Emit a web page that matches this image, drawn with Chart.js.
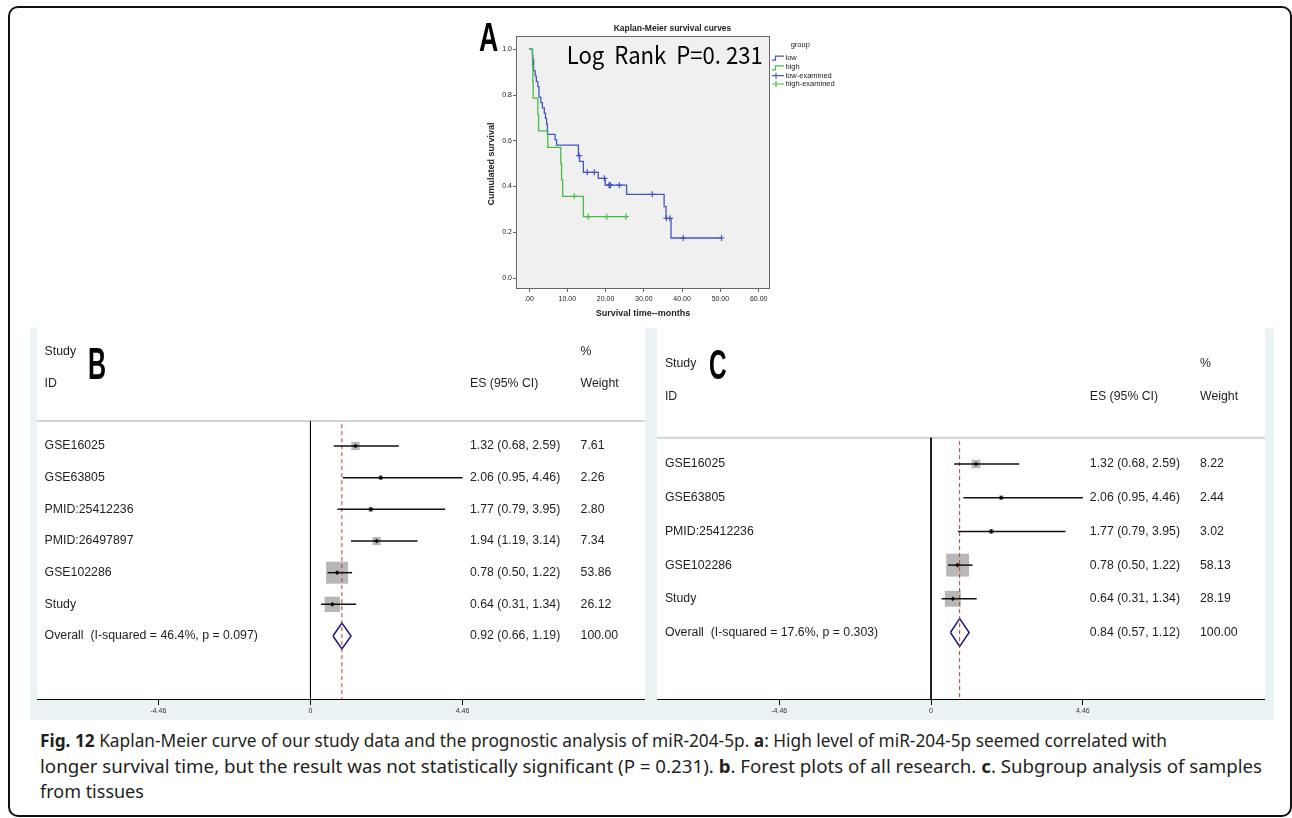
<!DOCTYPE html>
<html>
<head>
<meta charset="utf-8">
<script src="https://cdn.jsdelivr.net/npm/chart.js@4.4.0/dist/chart.umd.min.js"></script>
<style>
  body { margin: 0; width: 1292px; height: 818px; overflow: hidden; position: relative; background: #fff; font-family: "Liberation Sans", Arial, sans-serif; }
  .frame { position: absolute; left: 8px; top: 6px; width: 1284px; height: 811px; border: 2px solid #111; border-radius: 10px; box-sizing: border-box; }
  .panel { position: absolute; background: #eaf2f3; }
  canvas { position: absolute; }
  .big { position: absolute; line-height: 1; color: #000; font-weight: bold; transform-origin: left top; white-space: nowrap; }
  .cap { position: absolute; left: 40px; font-family: "Noto Sans", sans-serif; font-size: 17.5px; line-height: 22px; color: #231f20; white-space: nowrap; transform-origin: left center; }
</style>
</head>
<body>
<div class="frame"></div>
<div class="panel" style="left:30px;top:328px;width:620px;height:392px"></div>
<div class="panel" style="left:650px;top:328px;width:624px;height:392px"></div>

<canvas id="km" width="380" height="315" style="left:470px;top:10px"></canvas>
<canvas id="forestB" width="608" height="392" style="left:37px;top:328px"></canvas>
<canvas id="forestC" width="608" height="392" style="left:657px;top:328px"></canvas>

<div class="big" style="left:479px;top:17px;font-size:40.5px;transform:scaleX(0.66)">A</div>
<div class="big" style="left:88px;top:342px;font-size:44.7px;transform:scaleX(0.56)">B</div>
<div class="big" style="left:709px;top:344px;font-size:42px;transform:scaleX(0.58)">C</div>

<div class="cap" id="cap1" style="top:729px"><b>Fig. 12</b> Kaplan-Meier curve of our study data and the prognostic analysis of miR-204-5p. <b>a</b>: High level of miR-204-5p seemed correlated with</div>
<div class="cap" id="cap2" style="top:755px">longer survival time, but the result was not statistically significant (P = 0.231). <b>b</b>. Forest plots of all research. <b>c</b>. Subgroup analysis of samples</div>
<div class="cap" id="cap3" style="top:780px">from tissues</div>

<script>
// Kaplan-Meier: tiempos de evento y supervivencia
const lowTimes = [0, 0.9, 1.0, 1.2, 1.6, 1.9, 2.3, 2.6, 3.1, 3.5, 4.0, 4.3, 4.6, 4.8, 6.8, 7.2, 12.9, 13.2, 14.2, 18.1, 19.9, 25.5, 35.3, 35.8, 37.1];
const lowSurv = [1, 0.977, 0.953, 0.907, 0.884, 0.860, 0.837, 0.791, 0.767, 0.744, 0.721, 0.698, 0.674, 0.628, 0.605, 0.581, 0.535, 0.510, 0.462, 0.436, 0.406, 0.366, 0.312, 0.261, 0.175];
const lowCensor = [13.1, 15.2, 17.05, 19.7, 20.9, 21.1, 21.3, 23.6, 32.2, 35.9, 36.8, 40.3, 50.3];
const highTimes = [0, 0.9, 1.0, 1.1, 2.3, 2.5, 4.9, 8.3, 8.5, 8.8, 14.2];
const highSurv = [1, 0.929, 0.857, 0.786, 0.714, 0.643, 0.571, 0.500, 0.429, 0.357, 0.268];
const highCensor = [11.8, 15.5, 20.3, 25.3];
const kmXTicks = [0, 10, 20, 30, 40, 50, 60];
const kmYTicks = [0, 0.2, 0.4, 0.6, 0.8, 1.0];
const kmGroups = ['low', 'high', 'low-examined', 'high-examined'];

// Forest plot B (todos los estudios)
const studiesB = ['GSE16025', 'GSE63805', 'PMID:25412236', 'PMID:26497897', 'GSE102286', 'Study'];
const esB = [1.32, 2.06, 1.77, 1.94, 0.78, 0.64];
const loB = [0.68, 0.95, 0.79, 1.19, 0.50, 0.31];
const hiB = [2.59, 4.46, 3.95, 3.14, 1.22, 1.34];
const weightB = [7.61, 2.26, 2.80, 7.34, 53.86, 26.12];
const overallB = [0.92, 0.66, 1.19];
const overallLabelB = 'Overall  (I-squared = 46.4%, p = 0.097)';

// Forest plot C (subgrupo de tejidos)
const studiesC = ['GSE16025', 'GSE63805', 'PMID:25412236', 'GSE102286', 'Study'];
const esC = [1.32, 2.06, 1.77, 0.78, 0.64];
const loC = [0.68, 0.95, 0.79, 0.50, 0.31];
const hiC = [2.59, 4.46, 3.95, 1.22, 1.34];
const weightC = [8.22, 2.44, 3.02, 58.13, 28.19];
const overallC = [0.84, 0.57, 1.12];
const overallLabelC = 'Overall  (I-squared = 17.6%, p = 0.303)';

const forestTicks = [-4.46, 0, 4.46];

const BLUE = '#4257c2';
const GREEN = '#46be46';

// curva escalonada hasta el ultimo censurado
function stepCurve(times, surv, censor) {
  const pts = times.map((t, i) => ({ x: t, y: surv[i] }));
  const end = Math.max(...censor);
  if (end > times[times.length - 1]) pts.push({ x: end, y: surv[surv.length - 1] });
  return pts;
}
function survAt(times, surv, t) {
  let s = surv[0];
  times.forEach((tt, i) => { if (tt <= t) s = surv[i]; });
  return s;
}
function censorPoints(times, surv, censor) {
  return censor.map(t => ({ x: t, y: survAt(times, surv, t) }));
}

const kmDecor = {
  id: 'kmDecor',
  beforeDatasetsDraw(chart) {
    const { ctx, chartArea: a } = chart;
    ctx.save();
    ctx.fillStyle = '#f0f0f0';
    ctx.fillRect(a.left, a.top, a.right - a.left, a.bottom - a.top);
    ctx.restore();
  },
  afterDraw(chart) {
    const { ctx, chartArea: a } = chart;
    ctx.save();
    ctx.strokeStyle = '#666';
    ctx.lineWidth = 1;
    ctx.strokeRect(a.left + 0.5, a.top + 0.5, a.right - a.left - 1, a.bottom - a.top - 1);

    ctx.fillStyle = '#222';
    ctx.textAlign = 'center';
    ctx.textBaseline = 'middle';
    ctx.font = 'bold 8.5px "Liberation Sans", Arial';
    ctx.fillText('Kaplan-Meier survival curves', 202.5, 19);
    ctx.font = 'bold 9px "Liberation Sans", Arial';
    ctx.fillText('Survival time--months', (a.left + a.right) / 2, 304);
    ctx.save();
    ctx.translate(21.7, 154);
    ctx.rotate(-Math.PI / 2);
    ctx.fillText('Cumulated survival', 0, 0);
    ctx.restore();

    // texto del log rank
    ctx.font = '24px "Noto Sans CJK SC"';
    ctx.textAlign = 'left';
    ctx.textBaseline = 'alphabetic';
    ctx.fillStyle = '#000';
    const lr = 'Log  Rank  P=0. 231';
    const sx = 196 / ctx.measureText(lr).width;
    ctx.save();
    ctx.translate(96.7, 54);
    ctx.scale(sx, 1);
    ctx.fillText(lr, 0, 0);
    ctx.restore();

    // leyenda
    ctx.font = '7.5px "Liberation Sans", Arial';
    ctx.fillStyle = '#222';
    ctx.textBaseline = 'middle';
    ctx.fillText('group', 320.7, 35);
    const ys = [47.7, 57.3, 65.7, 74];
    const cols = [BLUE, GREEN, BLUE, GREEN];
    kmGroups.forEach((g, i) => {
      const y = ys[i];
      ctx.strokeStyle = cols[i];
      ctx.lineWidth = 1.2;
      ctx.beginPath();
      if (i < 2) {
        ctx.moveTo(302, y + 2.5); ctx.lineTo(305.5, y + 2.5); ctx.lineTo(305.5, y - 1.5); ctx.lineTo(314, y - 1.5);
      } else {
        ctx.moveTo(302, y); ctx.lineTo(314, y);
        ctx.moveTo(306, y - 3); ctx.lineTo(306, y + 3);
      }
      ctx.stroke();
      ctx.fillStyle = '#222';
      ctx.fillText(g, 315.5, y);
    });
    ctx.restore();
  }
};

new Chart(document.getElementById('km'), {
  type: 'scatter',
  data: {
    datasets: [
      { type: 'line', data: stepCurve(highTimes, highSurv, highCensor), stepped: true, borderColor: GREEN, borderWidth: 1.3, pointRadius: 0, fill: false },
      { data: censorPoints(highTimes, highSurv, highCensor), pointStyle: 'cross', pointRadius: 3, borderColor: GREEN, borderWidth: 1.2 },
      { type: 'line', data: stepCurve(lowTimes, lowSurv, lowCensor), stepped: true, borderColor: BLUE, borderWidth: 1.3, pointRadius: 0, fill: false },
      { data: censorPoints(lowTimes, lowSurv, lowCensor), pointStyle: 'cross', pointRadius: 3, borderColor: BLUE, borderWidth: 1.2 }
    ]
  },
  options: {
    responsive: false,
    animation: false,
    layout: { autoPadding: false, padding: { top: 26, right: 80, left: 0, bottom: 0 } },
    plugins: { legend: { display: false }, tooltip: { enabled: false } },
    scales: {
      x: {
        type: 'linear', min: -3.4, max: 62.96,
        afterFit: s => { s.height = 36; },
        afterBuildTicks: s => { s.ticks = kmXTicks.map(v => ({ value: v })); },
        grid: { drawOnChartArea: false, tickLength: 3, color: '#666' },
        border: { display: false },
        ticks: { autoSkip: false, maxRotation: 0, padding: 3, color: '#222', font: { size: 7, family: '"Liberation Sans", Arial' }, callback: v => v === 0 ? '.00' : v.toFixed(2) }
      },
      y: {
        type: 'linear', min: -0.048, max: 1.058,
        afterFit: s => { s.width = 46; },
        afterBuildTicks: s => { s.ticks = kmYTicks.map(v => ({ value: v })); },
        grid: { drawOnChartArea: false, tickLength: 3, color: '#666' },
        border: { display: false },
        ticks: { autoSkip: false, padding: 1, color: '#222', font: { size: 7, family: '"Liberation Sans", Arial' }, callback: v => v.toFixed(1) }
      }
    }
  },
  plugins: [kmDecor]
});

// Se arma un forest plot con las filas en unidades de renglon
function forestChart(id, d, lay) {
  const n = d.studies.length;
  const font = '12.3px "Liberation Sans", Arial';
  const datasets = [];
  datasets.push({ data: d.es.map((v, i) => ({ x: v, y: i })), pointStyle: 'rectRot', pointRadius: 2.3, backgroundColor: '#000', borderWidth: 0 });
  d.studies.forEach((s, i) => {
    datasets.push({ type: 'line', data: [{ x: d.lo[i], y: i }, { x: d.hi[i], y: i }], borderColor: '#111', borderWidth: 1.5, pointRadius: 0 });
  });
  datasets.push({ type: 'line', data: [{ x: d.overall[0], y: lay.sepRow + 0.1 }, { x: d.overall[0], y: lay.rowMax }], borderColor: '#c0392b', borderWidth: 1, borderDash: [4, 3], pointRadius: 0 });
  datasets.push({ type: 'line', data: [{ x: 0, y: lay.sepRow }, { x: 0, y: lay.rowMax }], borderColor: '#000', borderWidth: 1, pointRadius: 0 });
  const h = lay.diamondHalf;
  datasets.push({
    type: 'line',
    data: [{ x: d.overall[1], y: n }, { x: d.overall[0], y: n - h }, { x: d.overall[2], y: n }, { x: d.overall[0], y: n + h }, { x: d.overall[1], y: n }],
    borderColor: '#1c1c78', borderWidth: 1.5, pointRadius: 0, fill: false, tension: 0, borderJoinStyle: 'miter'
  });
  datasets.push({ data: d.es.map((v, i) => ({ x: v, y: i })), pointStyle: 'rect', pointRadius: d.weight.map(w => 3.0 * Math.sqrt(w) / Math.SQRT2), backgroundColor: '#b7b7b7', borderWidth: 0 });

  const decor = {
    id: 'forestDecor' + id,
    beforeDatasetsDraw(chart) {
      const { ctx, chartArea: a, scales } = chart;
      ctx.save();
      ctx.fillStyle = '#fff';
      ctx.fillRect(a.left, a.top, a.right - a.left, a.bottom - a.top);
      const ys = scales.y.getPixelForValue(lay.sepRow);
      ctx.strokeStyle = '#d0d5d7';
      ctx.lineWidth = 2;
      ctx.beginPath(); ctx.moveTo(a.left, ys); ctx.lineTo(a.right, ys); ctx.stroke();
      ctx.restore();
    },
    afterDraw(chart) {
      const { ctx, chartArea: a, scales } = chart;
      const y = v => scales.y.getPixelForValue(v);
      const xl = a.left + lay.labelX, xe = a.left + lay.esX, xw = a.left + lay.weightX;
      ctx.save();
      ctx.font = font;
      ctx.fillStyle = '#1e1e1e';
      ctx.textBaseline = 'middle';
      ctx.textAlign = 'left';
      ctx.fillText('Study', xl, y(lay.studyRow));
      ctx.fillText('ID', xl, y(lay.idRow));
      ctx.fillText('ES (95% CI)', xe, y(lay.idRow));
      ctx.fillText('%', xw, y(lay.studyRow));
      ctx.fillText('Weight', xw, y(lay.idRow));
      d.studies.forEach((s, i) => {
        ctx.fillText(s, xl, y(i));
        ctx.fillText(`${d.es[i].toFixed(2)} (${d.lo[i].toFixed(2)}, ${d.hi[i].toFixed(2)})`, xe, y(i));
        ctx.fillText(d.weight[i].toFixed(2), xw, y(i));
      });
      ctx.fillText(d.overallLabel, xl, y(n));
      ctx.fillText(`${d.overall[0].toFixed(2)} (${d.overall[1].toFixed(2)}, ${d.overall[2].toFixed(2)})`, xe, y(n));
      ctx.fillText((100).toFixed(2), xw, y(n));
      ctx.restore();
    }
  };

  return new Chart(document.getElementById(id), {
    type: 'scatter',
    data: { datasets },
    options: {
      responsive: false,
      animation: false,
      layout: { autoPadding: false, padding: 0 },
      plugins: { legend: { display: false }, tooltip: { enabled: false } },
      scales: {
        x: {
          type: 'linear', min: lay.xMin, max: lay.xMax,
          afterFit: s => { s.height = 21; },
          afterBuildTicks: s => { s.ticks = forestTicks.map(v => ({ value: v })); },
          grid: { drawOnChartArea: false, tickLength: 6, color: '#000' },
          border: { display: true, color: '#000', width: 1 },
          ticks: { autoSkip: false, maxRotation: 0, padding: 2, color: '#333', font: { size: 7, family: '"Liberation Sans", Arial' }, callback: v => v === 0 ? '0' : v.toFixed(2) }
        },
        y: { type: 'linear', display: false, reverse: true, min: lay.rowMin, max: lay.rowMax }
      }
    },
    plugins: [decor]
  });
}

forestChart('forestB',
  { studies: studiesB, es: esB, lo: loB, hi: hiB, weight: weightB, overall: overallB, overallLabel: overallLabelB },
  { xMin: -8.02, xMax: 9.81, rowMin: -3.726, rowMax: 7.989, studyRow: -2.98, idRow: -1.98, sepRow: -0.79, diamondHalf: 0.41, labelX: 7.6, esX: 433, weightX: 543.6 });
forestChart('forestC',
  { studies: studiesC, es: esC, lo: loC, hi: hiC, weight: weightC, overall: overallC, overallLabel: overallLabelC },
  { xMin: -8.05, xMax: 9.81, rowMin: -4.036, rowMax: 6.973, studyRow: -2.97, idRow: -2.0, sepRow: -0.78, diamondHalf: 0.415, labelX: 7.9, esX: 432.8, weightX: 543 });

// Se ajusta el ancho de cada renglon del pie de figura
function fitWidth(el, w) {
  const r = el.getBoundingClientRect().width;
  const k = w / r;
  el.style.transform = `scaleX(${k})`;
  return k;
}
const k1 = fitWidth(document.getElementById('cap1'), 1127);
const k2 = fitWidth(document.getElementById('cap2'), 1222);
document.getElementById('cap3').style.transform = `scaleX(${(k1 + k2) / 2})`;
</script>
</body>
</html>
